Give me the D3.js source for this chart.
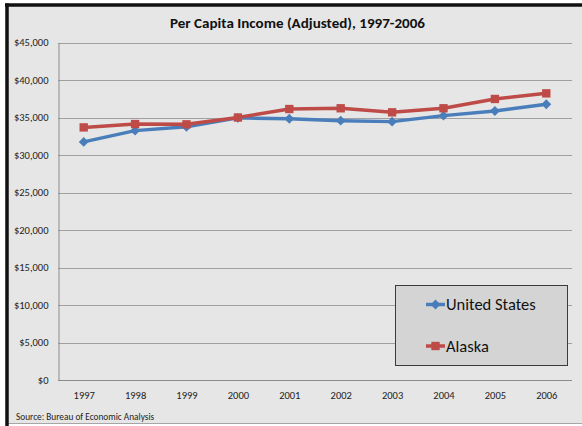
<!DOCTYPE html>
<html><head><meta charset="utf-8">
<script src="https://cdn.jsdelivr.net/npm/d3@7"></script>
<style>html,body{margin:0;padding:0;background:#fff;}svg{display:block;}</style>
</head><body>
<svg id="c" width="582" height="426"></svg>
<script>
const years = ["1997","1998","1999","2000","2001","2002","2003","2004","2005","2006"];
const unitedStates = [31750, 33250, 33770, 34950, 34840, 34580, 34450, 35250, 35870, 36770];
const alaska = [33680, 34130, 34090, 35000, 36130, 36230, 35690, 36230, 37470, 38220];
const yTicks = [0, 5000, 10000, 15000, 20000, 25000, 30000, 35000, 40000, 45000];
const seriesNames = ["United States", "Alaska"];
const titleText = "Per Capita Income (Adjusted), 1997-2006";
const sourceText = "Source: Bureau of Economic Analysis";

const svg = d3.select("#c");
const font = "Carlito, 'Liberation Sans', Arial, sans-serif";

// chart area background + frame
svg.append("rect").attr("x", 7).attr("y", 5).attr("width", 582).attr("height", 418)
  .attr("fill", "#e6e6e6");
svg.append("line").attr("x1", 7).attr("x2", 582).attr("y1", 423.5).attr("y2", 423.5)
  .attr("stroke", "#a6a6a6").attr("stroke-width", 1);
svg.append("line").attr("x1", 5).attr("x2", 582).attr("y1", 5).attr("y2", 5)
  .attr("stroke", "#111").attr("stroke-width", 3.5);
svg.append("line").attr("x1", 7).attr("x2", 7).attr("y1", 3.5).attr("y2", 426)
  .attr("stroke", "#111").attr("stroke-width", 3.5);

const pL = 58, pR = 572, pT = 42.5, pB = 380;
const x = d3.scalePoint().domain(years).range([pL, pR]).padding(0.5);
const y = d3.scaleLinear().domain([0, 45000]).range([pB, pT]);

// gridlines
svg.append("g").selectAll("line").data(yTicks.filter(d => d > 0)).join("line")
  .attr("x1", pL).attr("x2", pR)
  .attr("y1", d => Math.round(y(d)) + 0.5).attr("y2", d => Math.round(y(d)) + 0.5)
  .attr("stroke", "#a0a0a0").attr("stroke-width", 1);

// y axis
const yAxis = d3.axisLeft(y).tickValues(yTicks).tickSize(0).tickPadding(10)
  .tickFormat(d => "$" + d3.format(",")(d));
const gy = svg.append("g").attr("transform", `translate(${pL + 0.5},0)`).call(yAxis);
gy.select(".domain").attr("stroke", "#8c8c8c");
gy.selectAll("text").attr("font-family", font).attr("font-size", 10.5).attr("fill", "#222");

// x axis
const xAxis = d3.axisBottom(x).tickSize(0).tickPadding(11);
const gx = svg.append("g").attr("transform", `translate(0,${pB + 0.5})`).call(xAxis);
gx.select(".domain").attr("stroke", "#8c8c8c").attr("d", `M${pL},0H${pR}`);
gx.selectAll("text").attr("font-family", font).attr("font-size", 10.5).attr("fill", "#222");

// lines
const series = [
  { name: seriesNames[0], values: unitedStates, color: "#4a7ebb", marker: "diamond" },
  { name: seriesNames[1], values: alaska, color: "#be4b48", marker: "square" }
];
const line = d3.line().x((d, i) => x(years[i])).y(d => y(d));
const diamond = d3.symbol().type(d3.symbolDiamond2).size(62);
const square = d3.symbol().type(d3.symbolSquare).size(70);

series.forEach(s => {
  svg.append("path").datum(s.values).attr("d", line)
    .attr("fill", "none").attr("stroke", s.color).attr("stroke-width", 3.5)
    .attr("stroke-linejoin", "round");
  svg.append("g").selectAll("path").data(s.values).join("path")
    .attr("transform", (d, i) => `translate(${x(years[i])},${y(d)})`)
    .attr("d", s.marker === "diamond" ? diamond : square)
    .attr("fill", s.color);
});

// title
svg.append("text").attr("x", 297.5).attr("y", 28).attr("text-anchor", "middle")
  .attr("font-family", font).attr("font-weight", "bold").attr("font-size", 13.5)
  .attr("fill", "#111").attr("textLength", 255).attr("lengthAdjust", "spacingAndGlyphs")
  .text(titleText);

// legend
const lg = svg.append("g");
lg.append("rect").attr("x", 395.5).attr("y", 285.5).attr("width", 172).attr("height", 80)
  .attr("fill", "#d4d4d4").attr("stroke", "#3a3a3a").attr("stroke-width", 1);
const legendY = [304.5, 346];
series.forEach((s, i) => {
  const ly = legendY[i];
  lg.append("line").attr("x1", 426).attr("x2", 445).attr("y1", ly).attr("y2", ly)
    .attr("stroke", s.color).attr("stroke-width", 3.5);
  lg.append("path").attr("transform", `translate(435.5,${ly})`)
    .attr("d", s.marker === "diamond" ? diamond : square).attr("fill", s.color);
  lg.append("text").attr("x", 446).attr("y", ly).attr("dy", "0.35em")
    .attr("font-family", font).attr("font-size", 16.5).attr("fill", "#111")
    .text(s.name);
});

// source
svg.append("text").attr("x", 16).attr("y", 417).attr("dy", "0.35em")
  .attr("font-family", font).attr("font-size", 9.3).attr("fill", "#222")
  .text(sourceText);
</script>
</body></html>
